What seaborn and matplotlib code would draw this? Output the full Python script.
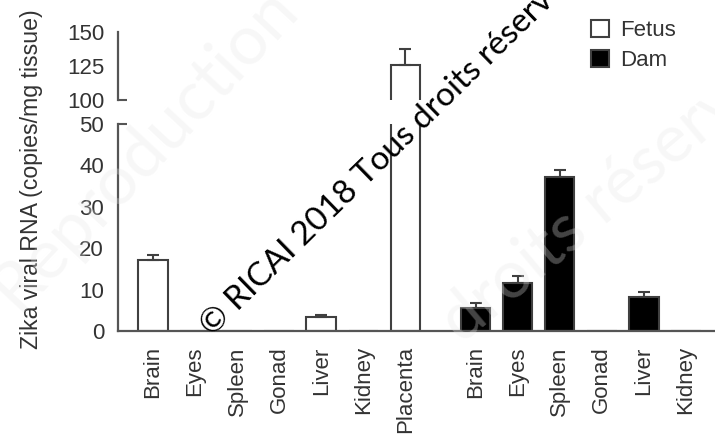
import numpy as np
import pandas as pd
import matplotlib
matplotlib.use("Agg")
import matplotlib.pyplot as plt
import seaborn as sns
from matplotlib.patches import Patch

# Zika viral RNA per tissue (copies/mg tissue), mean and upper SEM
fetus_tissues = ["Brain", "Eyes", "Spleen", "Gonad", "Liver", "Kidney", "Placenta"]
fetus_mean = [17.1, 0, 0, 0, 3.5, 0, 125.5]
fetus_err = [1.2, 0, 0, 0, 0.3, 0, 12.0]

dam_tissues = ["Brain", "Eyes", "Spleen", "Gonad", "Liver", "Kidney"]
dam_mean = [5.6, 11.5, 37.3, 0, 8.3, 0]
dam_err = [1.1, 1.9, 1.6, 0, 1.1, 0]

groups = ["Fetus", "Dam"]
lower_ticks = [0, 10, 20, 30, 40, 50]
upper_ticks = [100, 125, 150]

sns.set_theme(style="white")
plt.rcParams["font.family"] = ["Liberation Sans", "DejaVu Sans"]

AX = "#555555"
TXT = "#333333"
EDGE = "#404040"
FS = 16

fetus_pos = np.arange(len(fetus_tissues), dtype=float)
dam_pos = fetus_pos[-1] + 1.67 + np.arange(len(dam_tissues), dtype=float)

df = pd.DataFrame({
    "pos": np.r_[fetus_pos, dam_pos],
    "value": fetus_mean + dam_mean,
    "err": fetus_err + dam_err,
    "group": [groups[0]] * len(fetus_tissues) + [groups[1]] * len(dam_tissues),
})

W, H = 715, 436
fig = plt.figure(figsize=(W / 100, H / 100), dpi=100)
left_px, right_px = 118, 715
ax_lo = fig.add_axes([left_px / W, 1 - 331 / H, (right_px - left_px) / W, (331 - 124) / H])
ax_hi = fig.add_axes([left_px / W, 1 - 100 / H, (right_px - left_px) / W, (100 - 32) / H])

palette = {"Fetus": "white", "Dam": "black"}
for ax in (ax_lo, ax_hi):
    sns.barplot(data=df, x="pos", y="value", hue="group", palette=palette,
                native_scale=True, dodge=False, width=0.7, errorbar=None,
                edgecolor=EDGE, linewidth=1.5, legend=False, ax=ax, zorder=2)
    sub = df[df["err"] > 0]
    ax.errorbar(sub["pos"], sub["value"],
                yerr=[np.zeros(len(sub)), sub["err"]],
                fmt="none", ecolor=EDGE, elinewidth=1.5, capsize=4,
                capthick=1.5, zorder=3)
    ax.set_xlim(-0.83, dam_pos[-1] + 0.69)
    ax.set_xlabel("")
    ax.set_ylabel("")
    ax.set_facecolor("none")
    for s in ("top", "right"):
        ax.spines[s].set_visible(False)
    for s in ("left", "bottom"):
        ax.spines[s].set_color(AX)
        ax.spines[s].set_linewidth(1.6)
    ax.tick_params(axis="both", direction="out", length=7, width=1.5,
                   color=AX, labelcolor=TXT, labelsize=FS, pad=3)

ax_lo.set_ylim(0, 50)
ax_lo.set_yticks(lower_ticks)
ax_lo.set_xticks(np.r_[fetus_pos, dam_pos])
ax_lo.set_xticklabels(fetus_tissues + dam_tissues, rotation=90)
ax_lo.tick_params(axis="x", pad=4)

ax_hi.set_ylim(100, 150)
ax_hi.set_yticks(upper_ticks)
ax_hi.spines["bottom"].set_visible(False)
ax_hi.set_xticks([])

# axis-break marks extending right of the spine
bw = 9 / (right_px - left_px)
ax_lo.plot([0, bw], [50, 50], transform=ax_lo.get_yaxis_transform(),
           color=AX, lw=1.5, clip_on=False, solid_capstyle="butt")
ax_hi.plot([0, bw], [100, 100], transform=ax_hi.get_yaxis_transform(),
           color=AX, lw=1.5, clip_on=False, solid_capstyle="butt")

fig.text(32 / W, 1 - 179 / H, "Zika viral RNA (copies/mg tissue)",
         rotation=90, ha="center", va="center", fontsize=16.7, color=TXT)

handles = [Patch(facecolor=palette[g], edgecolor=EDGE, linewidth=1.5, label=g)
           for g in groups]
fig.legend(handles=handles, loc="upper left", bbox_to_anchor=(582 / W, 1 - 11 / H),
           frameon=False, fontsize=FS, handlelength=0.8, handleheight=0.8,
           handletextpad=0.5, labelspacing=0.4, labelcolor=TXT, borderaxespad=0)

# copyright overlay
fig.text(212 / W, 1 - 337 / H, "© RICAI 2018 Tous droits réservés",
         rotation=44.3, rotation_mode="anchor", ha="left", va="baseline",
         fontsize=24, color="black", family=["Lato", "DejaVu Sans"], zorder=10)
faint = dict(color=(0.9, 0.9, 0.9), alpha=0.3, family=["Lato", "DejaVu Sans"],
             rotation_mode="anchor", va="baseline", zorder=9)
fig.text(300 / W, 1 - 10 / H, "Reproduction", rotation=47, ha="right",
         fontsize=50, **faint)
fig.text(462 / W, 1 - 345 / H, "droits réservés", rotation=40, ha="left",
         fontsize=48, **faint)

fig.savefig("out.png", dpi=100)
